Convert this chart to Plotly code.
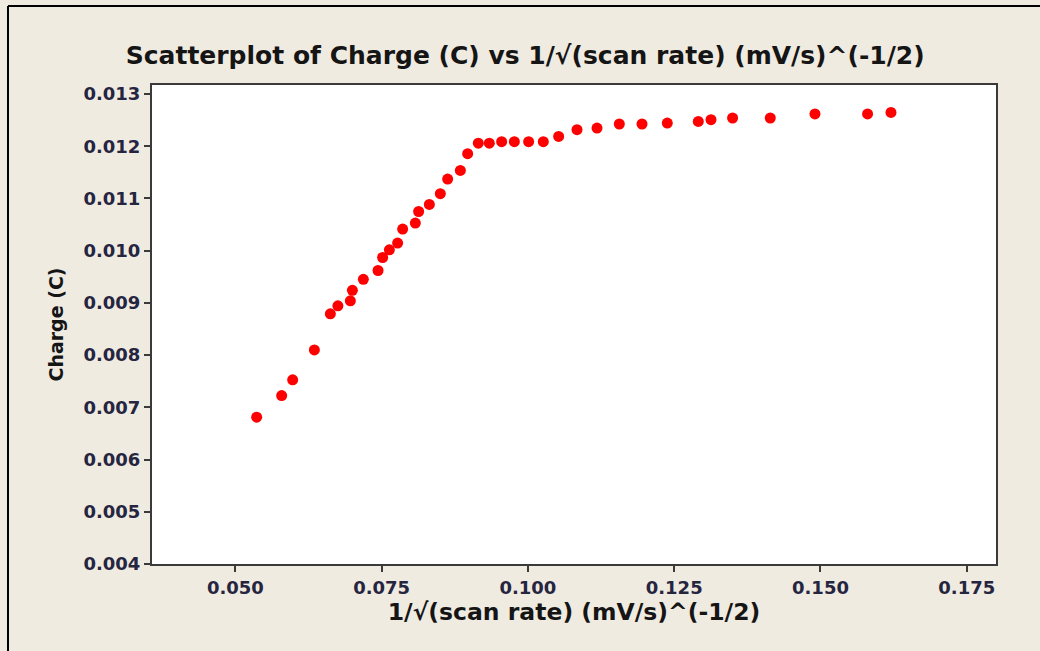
import plotly.graph_objects as go

x_vals = [0.05364, 0.05791, 0.05979, 0.06350, 0.06623, 0.06752, 0.06965, 0.07000,
          0.07187, 0.07438, 0.07517, 0.07632, 0.07773, 0.07859, 0.08076, 0.08132,
          0.08315, 0.08503, 0.08628, 0.08845, 0.08970, 0.09152, 0.09340, 0.09551,
          0.09768, 0.10012, 0.10263, 0.10525, 0.10839, 0.11181, 0.11562, 0.11950,
          0.12382, 0.12912, 0.13129, 0.13498, 0.14142, 0.14906, 0.15805, 0.16205]
charge = [0.006811, 0.007225, 0.007526, 0.008100, 0.008790, 0.008943, 0.009039, 0.009240,
          0.009451, 0.009620, 0.009869, 0.010017, 0.010145, 0.010413, 0.010528, 0.010750,
          0.010885, 0.011090, 0.011371, 0.011536, 0.011856, 0.012057, 0.012057, 0.012086,
          0.012086, 0.012086, 0.012086, 0.012187, 0.012316, 0.012348, 0.012425, 0.012425,
          0.012444, 0.012475, 0.012507, 0.012540, 0.012540, 0.012617, 0.012617, 0.012647]

x_ticks = [0.050, 0.075, 0.100, 0.125, 0.150, 0.175]
x_ticklabels = ["0.050", "0.075", "0.100", "0.125", "0.150", "0.175"]
y_ticks = [0.004, 0.005, 0.006, 0.007, 0.008, 0.009, 0.010, 0.011, 0.012, 0.013]
y_ticklabels = ["0.004", "0.005", "0.006", "0.007", "0.008", "0.009", "0.010", "0.011", "0.012", "0.013"]

title_text = "Scatterplot of Charge (C) vs 1/√(scan rate) (mV/s)^(-1/2)"
x_title = "1/√(scan rate) (mV/s)^(-1/2)"
y_title = "Charge (C)"

font_family = "DejaVu Sans, Verdana, sans-serif"
tick_color = "#25253f"
axis_line = "#3a3a3a"

fig = go.Figure()
fig.add_trace(go.Scatter(
    x=x_vals, y=charge, mode="markers",
    marker=dict(color="#ff0000", size=11, symbol="circle", line=dict(width=0)),
    showlegend=False,
))

fig.update_layout(
    width=1040, height=651,
    margin=dict(l=152, r=44, t=85, b=87),
    paper_bgcolor="#f0ebe1",
    plot_bgcolor="#ffffff",
    title=dict(text="<b>" + title_text + "</b>", x=0.505, xanchor="center",
               y=1 - 55 / 651, yanchor="middle",
               font=dict(family=font_family, size=25, color="#151515")),
    font=dict(family=font_family, color=tick_color),
    shapes=[
        dict(type="line", xref="paper", yref="paper", x0=(8 - 152) / 844, x1=1.1,
             y0=(564 - 6) / 479, y1=(564 - 6) / 479, line=dict(color="#000000", width=2)),
        dict(type="line", xref="paper", yref="paper", x0=(8 - 152) / 844, x1=(8 - 152) / 844,
             y0=(564 - 6) / 479, y1=-0.3, line=dict(color="#000000", width=2)),
    ],
)

fig.update_xaxes(
    range=[0.03575, 0.1800], tickvals=x_ticks, ticktext=x_ticklabels,
    showgrid=False, zeroline=False,
    showline=True, linecolor=axis_line, linewidth=2, mirror=True,
    ticks="outside", ticklen=6, tickwidth=1.5, tickcolor=axis_line,
    tickfont=dict(family=font_family, size=18, color=tick_color, weight="bold"),
    title=dict(text="<b>" + x_title + "</b>", standoff=7,
               font=dict(family=font_family, size=23.5, color="#151515")),
)
fig.update_yaxes(
    range=[0.004, 0.013172], tickvals=y_ticks, ticktext=y_ticklabels,
    showgrid=False, zeroline=False,
    showline=True, linecolor=axis_line, linewidth=2, mirror=True,
    ticks="outside", ticklen=6, tickwidth=1.5, tickcolor=axis_line,
    tickfont=dict(family=font_family, size=18, color=tick_color, weight="bold"),
    title=dict(text="<b>" + y_title + "</b>", standoff=15,
               font=dict(family=font_family, size=19, color="#151515")),
)

fig.write_html("out.html")
